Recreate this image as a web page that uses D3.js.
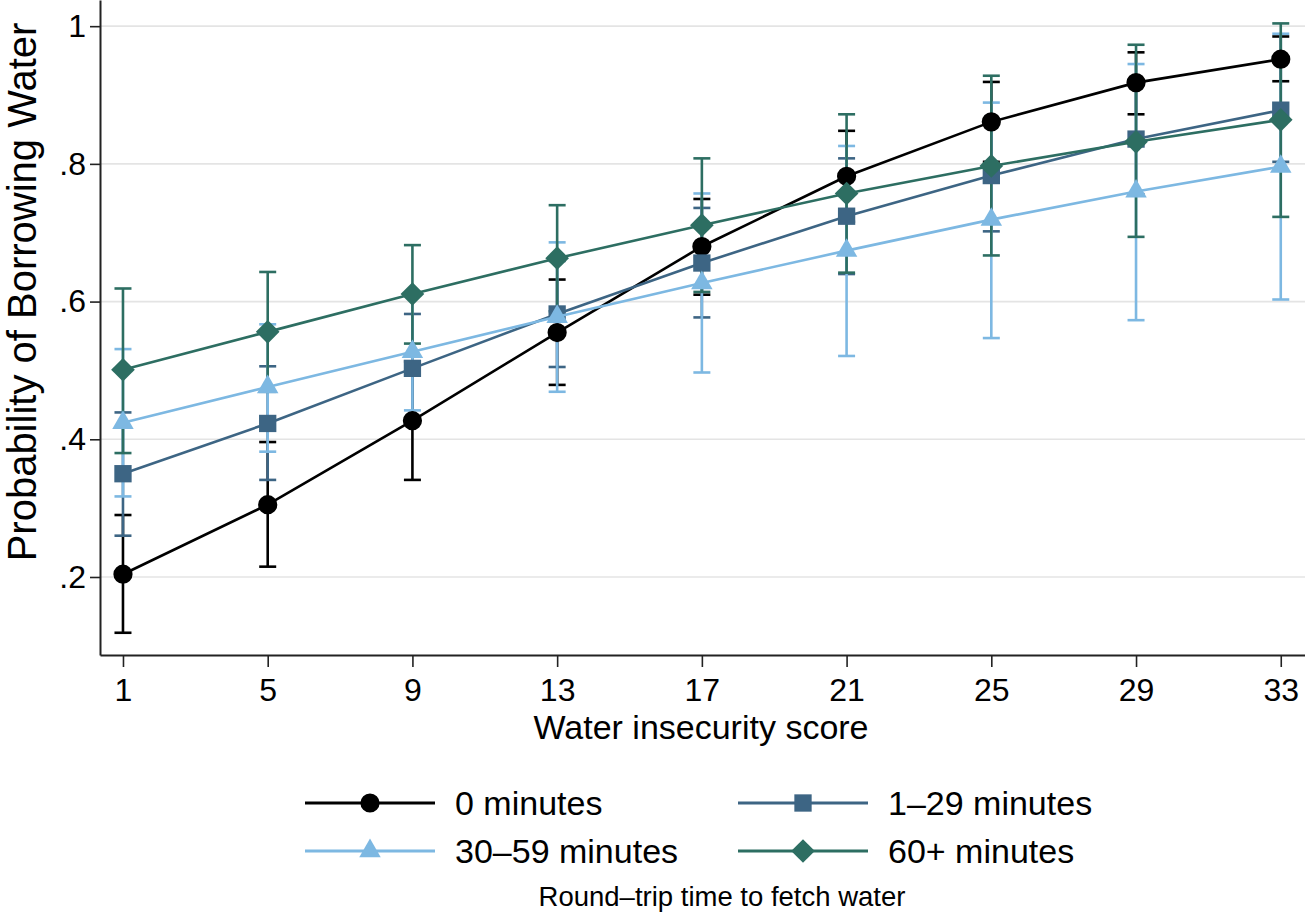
<!DOCTYPE html>
<html>
<head>
<meta charset="utf-8">
<script src="https://cdn.jsdelivr.net/npm/d3@7"></script>
<style>
  body { margin: 0; background: #fff; }
  svg { display: block; }
  text { font-family: "Liberation Sans", Arial, Helvetica, sans-serif; fill: #000; }
</style>
</head>
<body>
<svg id="chart" width="1305" height="914"></svg>
<script>
// water insecurity score (x)
var scores = [1, 5, 9, 13, 17, 21, 25, 29, 33];
var yTicks = [0.2, 0.4, 0.6, 0.8, 1];

// predicted probabilities + 95% CI
var min0 = [0.204, 0.305, 0.427, 0.555, 0.680, 0.782, 0.861, 0.918, 0.952];
var min0Lo = [0.119, 0.215, 0.341, 0.479, 0.610, 0.716, 0.803, 0.872, 0.920];
var min0Hi = [0.290, 0.396, 0.513, 0.632, 0.749, 0.848, 0.919, 0.962, 0.985];

var min1 = [0.350, 0.423, 0.503, 0.582, 0.656, 0.724, 0.783, 0.836, 0.878];
var min1Lo = [0.260, 0.341, 0.424, 0.505, 0.577, 0.640, 0.702, 0.756, 0.803];
var min1Hi = [0.439, 0.506, 0.582, 0.659, 0.736, 0.808, 0.864, 0.916, 0.953];

var min30 = [0.424, 0.476, 0.527, 0.578, 0.627, 0.674, 0.719, 0.760, 0.796];
var min30Lo = [0.317, 0.382, 0.442, 0.469, 0.497, 0.521, 0.547, 0.573, 0.603];
var min30Hi = [0.531, 0.567, 0.612, 0.686, 0.757, 0.826, 0.889, 0.945, 0.989];

var min60 = [0.501, 0.556, 0.611, 0.663, 0.711, 0.757, 0.797, 0.832, 0.864];
var min60Lo = [0.380, 0.469, 0.539, 0.586, 0.614, 0.642, 0.667, 0.694, 0.723];
var min60Hi = [0.619, 0.643, 0.682, 0.740, 0.808, 0.872, 0.928, 0.973, 1.004];

var labels = ['0 minutes', '1\u201329 minutes', '30\u201359 minutes', '60+ minutes'];
var colors = ['#000000', '#3d6584', '#7db8e2', '#2d6e62'];

var series = [
	{ name: labels[0], color: colors[0], shape: 'circle', p: min0, lo: min0Lo, hi: min0Hi },
	{ name: labels[1], color: colors[1], shape: 'square', p: min1, lo: min1Lo, hi: min1Hi },
	{ name: labels[2], color: colors[2], shape: 'triangle', p: min30, lo: min30Lo, hi: min30Hi },
	{ name: labels[3], color: colors[3], shape: 'diamond', p: min60, lo: min60Lo, hi: min60Hi }
];

var svg = d3.select('#chart');
var plotL = 100, plotR = 1305, plotT = 0, plotB = 655;

var x = d3.scaleLinear().domain([0.365, 33.67]).range([plotL, plotR]);
var y = d3.scaleLinear().domain([0.0867, 1.038]).range([plotB, plotT]);

function markerPath(shape){
	if (shape == 'circle') return d3.symbol(d3.symbolCircle, 290)();
	if (shape == 'square') return d3.symbol(d3.symbolSquare, 300)();
	if (shape == 'triangle') return d3.symbol(d3.symbolTriangle, 200)();
	return d3.symbol(d3.symbolSquare, 280)(); // rotated below -> diamond
}
function markerTransform(shape, px, py){
	return 'translate(' + px + ',' + py + ')' + (shape == 'diamond' ? ' rotate(45)' : '');
}

// grid lines
svg.append('g').selectAll('line')
	.data(yTicks)
	.enter().append('line')
	.attr('x1', plotL).attr('x2', plotR)
	.attr('y1', function(d){ return y(d); })
	.attr('y2', function(d){ return y(d); })
	.attr('stroke', '#e4e4e4')
	.attr('stroke-width', 1.6);

// confidence intervals (drawn first so lines sit on top)
series.forEach(function(s){
	var g = svg.append('g').attr('stroke', s.color).attr('stroke-width', 2.6).attr('fill', 'none');
	scores.forEach(function(sc, i){
		var cx = x(sc);
		g.append('line').attr('x1', cx).attr('x2', cx).attr('y1', y(s.lo[i])).attr('y2', y(s.hi[i]));
		g.append('line').attr('x1', cx - 8.5).attr('x2', cx + 8.5).attr('y1', y(s.lo[i])).attr('y2', y(s.lo[i]));
		g.append('line').attr('x1', cx - 8.5).attr('x2', cx + 8.5).attr('y1', y(s.hi[i])).attr('y2', y(s.hi[i]));
	});
});

// connected lines + markers
var line = d3.line()
	.x(function(d){ return x(d[0]); })
	.y(function(d){ return y(d[1]); });

series.forEach(function(s){
	var pts = scores.map(function(sc, i){ return [sc, s.p[i]]; });
	svg.append('path')
		.datum(pts)
		.attr('d', line)
		.attr('fill', 'none')
		.attr('stroke', s.color)
		.attr('stroke-width', 2.6);
	svg.append('g').selectAll('path')
		.data(pts)
		.enter().append('path')
		.attr('d', markerPath(s.shape))
		.attr('transform', function(d){ return markerTransform(s.shape, x(d[0]), y(d[1])); })
		.attr('fill', s.color);
});

// axes
var yAxis = d3.axisLeft(y)
	.tickValues(yTicks)
	.tickSize(10)
	.tickSizeOuter(0)
	.tickPadding(4)
	.tickFormat(function(d){ return d == 1 ? '1' : d3.format('.1f')(d).replace('0.', '.'); });
var gy = svg.append('g').attr('transform', 'translate(' + plotL + ',0)').call(yAxis);

var xAxis = d3.axisBottom(x)
	.tickValues(scores)
	.tickSize(12)
	.tickSizeOuter(0)
	.tickPadding(11);
var gx = svg.append('g').attr('transform', 'translate(0,' + plotB + ')').call(xAxis);

[gx, gy].forEach(function(g){
	g.select('.domain').attr('stroke', '#222').attr('stroke-width', 2);
	g.selectAll('.tick line').attr('stroke', '#222').attr('stroke-width', 1.6);
	g.selectAll('.tick text')
		.attr('font-family', '"Liberation Sans", Arial, sans-serif')
		.attr('font-size', 32)
		.attr('fill', '#000');
});

// axis titles
svg.append('text')
	.attr('x', 701).attr('y', 739)
	.attr('text-anchor', 'middle')
	.attr('font-size', 34)
	.text('Water insecurity score');

svg.append('text')
	.attr('transform', 'translate(36,292) rotate(-90)')
	.attr('text-anchor', 'middle')
	.attr('font-size', 40)
	.text('Probability of Borrowing Water');

// legend
var legX = [305, 738];
var legY = [803, 851];
series.forEach(function(s, i){
	var lx = legX[i % 2], ly = legY[Math.floor(i / 2)];
	var g = svg.append('g');
	g.append('line')
		.attr('x1', lx).attr('x2', lx + 130)
		.attr('y1', ly).attr('y2', ly)
		.attr('stroke', s.color).attr('stroke-width', 2.8);
	g.append('path')
		.attr('d', markerPath(s.shape))
		.attr('transform', markerTransform(s.shape, lx + 65, ly))
		.attr('fill', s.color);
	g.append('text')
		.attr('x', lx + 150).attr('y', ly + 12)
		.attr('font-size', 34)
		.text(s.name);
});

svg.append('text')
	.attr('x', 722).attr('y', 906)
	.attr('text-anchor', 'middle')
	.attr('font-size', 27.5)
	.text('Round\u2013trip time to fetch water');
</script>
</body>
</html>
